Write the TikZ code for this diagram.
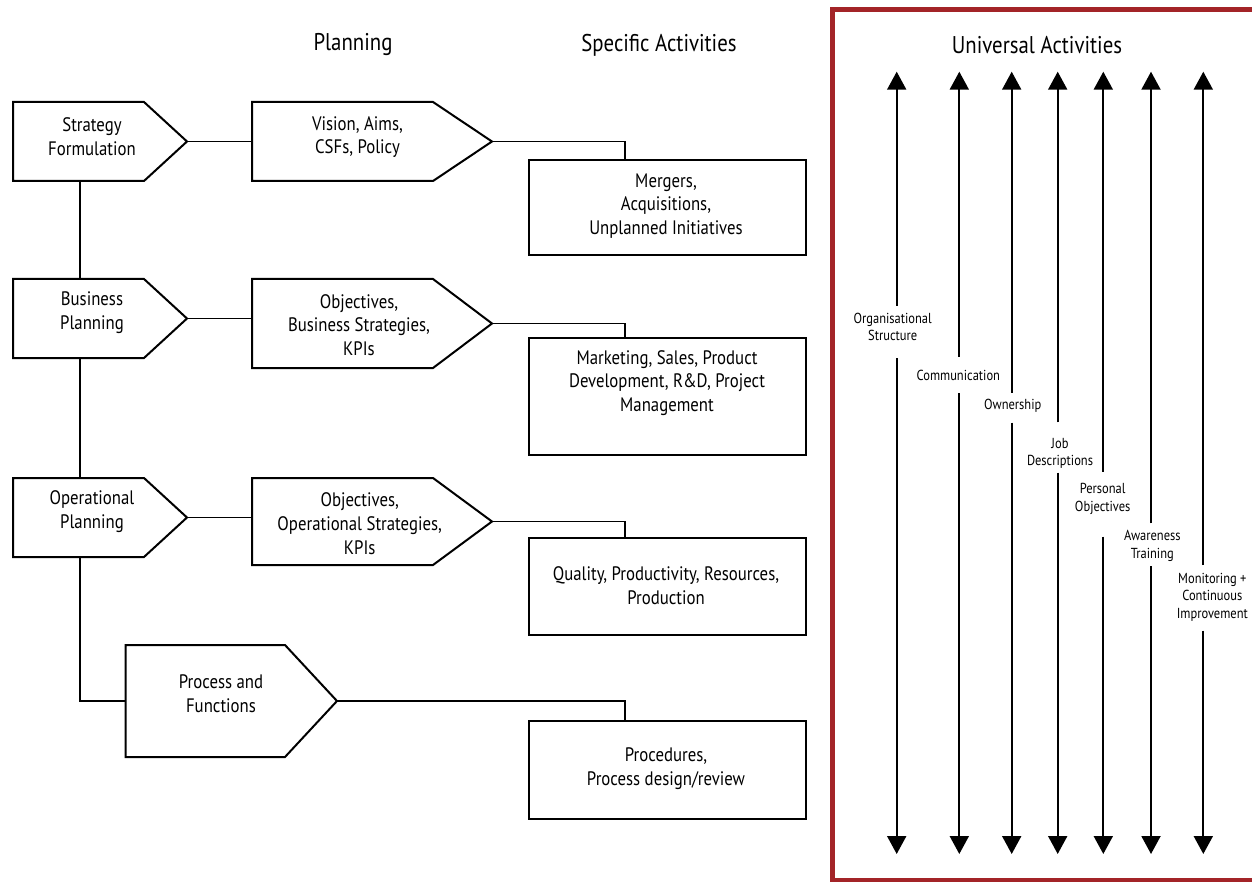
\documentclass[tikz,border=0pt]{standalone}
\usepackage{fontspec}
\setmainfont{PT Sans}[FakeStretch=0.86]
\usetikzlibrary{arrows.meta}
\definecolor{framered}{RGB}{163,36,40}

% pointed box: name, left, top, right edge, tip x, bottom
\newcommand\tagbox[6]{%
  \draw[shapeline] (#2,#3) -- (#4,#3) -- (#5,{(#3+#6)/2}) -- (#4,#6) -- (#2,#6) -- cycle;
  \coordinate (#1-tip) at (#5,{(#3+#6)/2});
  \coordinate (#1-w) at (#2,{(#3+#6)/2});
}

\begin{document}
\begin{tikzpicture}[x=1pt,y=-1pt,
  line/.style={line width=1.8pt, black},
  shapeline/.style={line width=2pt, line join=miter, black},
  actbox/.style={draw, shapeline, anchor=north west, inner sep=0pt},
  bodytext/.style={align=center, font=\fontsize{19.5}{23.8}\selectfont, inner sep=0pt},
  headtext/.style={font=\fontsize{24.2}{28}\selectfont, inner sep=0pt},
  smalltext/.style={align=center, font=\fontsize{14.5}{17.5}\selectfont, inner sep=0pt},
  uarrow/.style={line width=2pt, black, -{Triangle[width=19pt,length=18pt]}}]

\useasboundingbox (0,0) rectangle (1252,882);
\clip (0,0) rectangle (1252,882);

% column headings
\node[headtext] (hplan) at (353,45) {Planning};
\node[headtext] (hspec) at (659,45) {Specific Activities};
\node[headtext] (huniv) at (1037,45) {Universal Activities};

% planning levels
\tagbox{strat}{13}{102}{144}{187}{181}
\tagbox{bus}{13}{279}{144}{187}{358}
\tagbox{oper}{13}{478}{144}{187}{557}
\tagbox{proc}{125.6}{645}{285}{337}{757}
\node[bodytext] (stratT) at (92,137) {Strategy\\Formulation};
\node[bodytext] (busT) at (92,313) {Business\\Planning};
\node[bodytext] (operT) at (92,511.5) {Operational\\Planning};
\node[bodytext] (procT) at (221,694) {Process and\\Functions};

% planning outputs
\tagbox{vis}{252}{102}{433}{492}{181}
\tagbox{objb}{252}{279}{433}{492}{368}
\tagbox{objo}{252}{478}{433}{492}{565}
\node[bodytext] (visT) at (357.5,137) {Vision, Aims,\\CSFs, Policy};
\node[bodytext] (objbT) at (359,325) {Objectives,\\Business Strategies,\\KPIs};
\node[bodytext] (objoT) at (359.7,523.5) {Objectives,\\Operational Strategies,\\KPIs};

% specific activities
\node[actbox, minimum width=277pt, minimum height=95pt] (merg) at (528,159) {};
\node[actbox, minimum width=277pt, minimum height=117pt] (mark) at (528,337) {};
\node[actbox, minimum width=277pt, minimum height=97pt] (qual) at (528,537) {};
\node[actbox, minimum width=277pt, minimum height=98pt] (pdr) at (528,720) {};
\node[bodytext] (mergT) at (666,206) {Mergers,\\Acquisitions,\\Unplanned Initiatives};
\node[bodytext] (markT) at (667,383) {Marketing, Sales, Product\\Development, R\&D, Project\\Management};
\node[bodytext] (qualT) at (666,586) {Quality, Productivity, Resources,\\Production};
\node[bodytext] (pdrT) at (666,769) {Procedures,\\Process design/review};

% hierarchy trunk
\draw[line] (80,181) coordinate (strat-s) -- (80,279) coordinate (bus-n);
\draw[line] (80,358) coordinate (bus-s) -- (80,478) coordinate (oper-n);
\draw[line] (80,557) coordinate (oper-s) |- (proc-w);

% level to output
\draw[line] (strat-tip) -- (strat-tip -| vis-w);
\draw[line] (bus-tip) -- (bus-tip -| objb-w);
\draw[line] (oper-tip) -- (oper-tip -| objo-w);

% output to activities
\draw[line] (vis-tip) -| ([xshift=97pt]merg.north west);
\draw[line] (objb-tip) -| ([xshift=97pt]mark.north west);
\draw[line] (objo-tip) -| ([xshift=97pt]qual.north west);
\draw[line] (proc-tip) -| ([xshift=97pt]pdr.north west);

% universal activities frame
\draw[framered, line width=5pt] (832.5,9.5) rectangle (1265,880.5);

% universal activities: x, gap top, gap bottom, label x, label y, text
\foreach \i/\x/\ga/\gb/\lx/\ly/\txt in {
  1/896.7/305.7/358.3/892.7/327/{Organisational\\Structure},
  2/959.3/356.7/393.3/958.3/375.7/{Communication},
  3/1011.7/392.7/422.7/1012.7/406/{Ownership},
  4/1057.7/422.3/472.7/1060/453.3/{Job\\Descriptions},
  5/1103.3/471.7/536.7/1102.7/498.8/{Personal\\Objectives},
  6/1151/523.3/566/1152.3/546/{Awareness\\Training},
  7/1203.3/565/630.7/1212.3/597/{Monitoring +\\Continuous\\Improvement}}{
  \coordinate (u\i-top) at (\x,71.7);
  \coordinate (u\i-bot) at (\x,854);
  \coordinate (u\i-ga) at (\x,\ga);
  \coordinate (u\i-gb) at (\x,\gb);
  \node[smalltext] (u\i-lab) at (\lx,\ly) {\txt};
  \draw[uarrow] (u\i-ga) -- (u\i-top);
  \draw[uarrow] (u\i-gb) -- (u\i-bot);
}
\end{tikzpicture}
\end{document}
